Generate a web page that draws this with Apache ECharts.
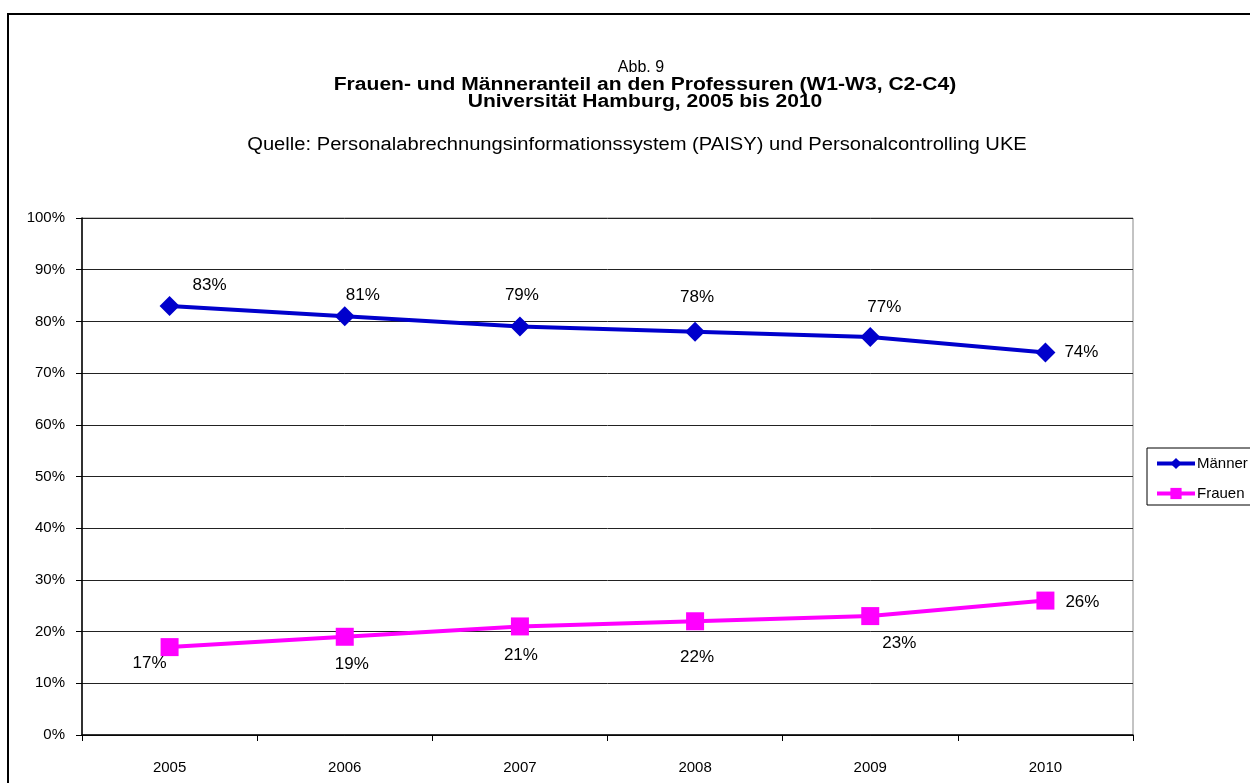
<!DOCTYPE html>
<html><head><meta charset="utf-8">
<script src="https://cdn.jsdelivr.net/npm/echarts@6/dist/echarts.min.js"></script>
<style>html,body{margin:0;padding:0;background:#fff}#c{width:1250px;height:783px}</style>
</head><body><div id="c"></div>
<script>
var years = ['2005','2006','2007','2008','2009','2010'];
var maenner = [83, 81, 79, 78, 77, 74];
var frauen = [17, 19, 21, 22, 23, 26];

var titleLines = ['Frauen- und Männeranteil an den Professuren (W1-W3, C2-C4)', 'Universität Hamburg, 2005 bis 2010'];
var abbText = 'Abb. 9';
var sourceText = 'Quelle: Personalabrechnungsinformationssystem (PAISY) und Personalcontrolling UKE';

var FONT = 'Liberation Sans, Arial, sans-serif';
var mOff = [[40,-21],[18,-21],[2,-31],[2,-34],[14,-30],[36,0]];
var fOff = [[-20,16],[7,28],[1,29],[2,36],[29,27],[37,2]];
function mk(vals, offs){
  return vals.map(function(v,i){
    return {value:v, label:{show:true, position:'inside', offset:offs[i], formatter:'{c}%', color:'#000', fontSize:17, fontFamily:FONT}};
  });
}
var chart = echarts.init(document.getElementById('c'), null, {renderer:'canvas'});
chart.setOption({
  animation:false,
  backgroundColor:'#fff',
  textStyle:{fontFamily:FONT},
  graphic:[
    {type:'rect', shape:{x:8, y:14, width:1300, height:800}, style:{fill:'none', stroke:'#000', lineWidth:2}, z:-1},
    {type:'text', x:641, y:68, style:{text:abbText, textAlign:'center', textVerticalAlign:'middle', font:'normal 16px ' + FONT, fill:'#000'}},
    {type:'text', x:645, y:85, scaleX:1.17, style:{text:titleLines[0], textAlign:'center', textVerticalAlign:'middle', font:'bold 18px ' + FONT, fill:'#000'}},
    {type:'text', x:645, y:102, scaleX:1.17, style:{text:titleLines[1], textAlign:'center', textVerticalAlign:'middle', font:'bold 18px ' + FONT, fill:'#000'}},
    {type:'text', x:637, y:145, scaleX:1.12, style:{text:sourceText, textAlign:'center', textVerticalAlign:'middle', font:'normal 18px ' + FONT, fill:'#000'}}
  ],
  legend:{
    orient:'vertical', left:1147, top:448, data:['Männer','Frauen'],
    borderColor:'#000', borderWidth:1, padding:[8,20,4,8], itemGap:15,
    itemWidth:38, itemHeight:14, lineStyle:{width:4},
    textStyle:{fontSize:15, color:'#000', padding:[0,0,0,-3]}
  },
  grid:{left:82, right:117, top:218, bottom:48, show:true, borderColor:'#888', borderWidth:1},
  xAxis:{
    type:'category', data:years, boundaryGap:true,
    axisLine:{lineStyle:{color:'#000', width:1.5}},
    axisTick:{show:true, inside:false, length:6, lineStyle:{color:'#000'}},
    axisLabel:{fontSize:15, color:'#000', margin:25}
  },
  yAxis:{
    type:'value', min:0, max:100, interval:10,
    axisLine:{show:true, lineStyle:{color:'#000', width:1.5}},
    axisTick:{show:true, length:6, lineStyle:{color:'#000'}},
    axisLabel:{fontSize:15, color:'#000', margin:17, formatter:'{value}%'},
    splitLine:{show:true, lineStyle:{color:'#222', width:1}}
  },
  series:[
    {name:'Männer', type:'line', data:mk(maenner,mOff), symbol:'diamond', symbolSize:20,
     lineStyle:{color:'#0000CC', width:4}, itemStyle:{color:'#0000CC'}},
    {name:'Frauen', type:'line', data:mk(frauen,fOff), symbol:'rect', symbolSize:18,
     lineStyle:{color:'#FF00FF', width:4}, itemStyle:{color:'#FF00FF'}}
  ]
});
</script></body></html>
